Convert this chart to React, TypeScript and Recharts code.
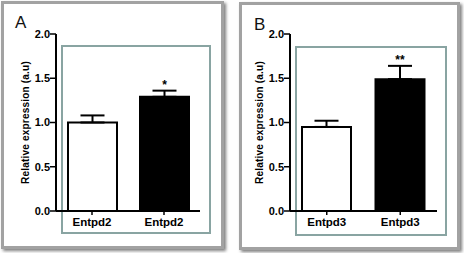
import { BarChart, Bar, XAxis, YAxis, Cell, ErrorBar, LabelList, Label } from 'recharts';

const categoriesA = ['Entpd2', 'Entpd2'];
const valuesA = [1.0, 1.29];
const errorsA = [0.08, 0.07];
const sigA = ['', '*'];

const categoriesB = ['Entpd3', 'Entpd3'];
const valuesB = [0.95, 1.49];
const errorsB = [0.07, 0.15];
const sigB = ['', '**'];

const yTicks = [0, 0.5, 1, 1.5, 2];
const barFills = ['#ffffff', '#000000'];

const FONT = '"Liberation Sans", Arial, sans-serif';

type Row = { name: string; value: number; err: number[]; e: number; sig: string };

const build = (cats: string[], vals: number[], errs: number[], sigs: string[]): Row[] =>
  cats.map((name, i) => ({ name, value: vals[i], err: [0, errs[i]], e: errs[i], sig: sigs[i] }));

const dataA = build(categoriesA, valuesA, errorsA, sigA);
const dataB = build(categoriesB, valuesB, errorsB, sigB);

// star above the error bar, placed using the bar's own pixel scale
const sigLabel = (rows: Row[]) => (props: any) => {
  const { x, y, width, height, index } = props;
  const row = rows[index];
  if (!row || !row.sig) return null;
  const top = y - (row.e * height) / row.value;
  return (
    <text x={x + width / 2} y={top - 2} textAnchor="middle" fontSize={12} fontWeight="bold" fontFamily={FONT} fill="#000">
      {row.sig}
    </text>
  );
};

const yLabel = (props: any) => {
  const vb = props.viewBox || {};
  const cx = vb.x + vb.width - 31;
  const cy = vb.y + vb.height / 2;
  return (
    <text x={cx} y={cy} transform={`rotate(-90 ${cx} ${cy})`} textAnchor="middle" dominantBaseline="central"
      fontSize={10} fontWeight="bold" fontFamily={FONT} fill="#000" letterSpacing={0.2}>
      Relative expression (a.u)
    </text>
  );
};

function Panel({ rows, letter, left, marginRight, frame, box, letterPos }: {
  rows: Row[]; letter: string; left: number; marginRight: number;
  frame: { l: number; t: number; w: number; h: number };
  box: { l: number; t: number; w: number; h: number };
  letterPos: { l: number; t: number };
}) {
  return (
    <>
      <div style={{
        position: 'absolute', left: frame.l, top: frame.t, width: frame.w, height: frame.h,
        boxSizing: 'border-box', border: '3px solid #a2a2a2', background: '#fff',
        boxShadow: '2px 2px 3px rgba(0,0,0,0.5)',
      }} />
      <div style={{
        position: 'absolute', left: box.l, top: box.t, width: box.w, height: box.h,
        boxSizing: 'border-box', border: '2px solid #89a4a2',
      }} />
      <div style={{ position: 'absolute', left: letterPos.l, top: letterPos.t, fontFamily: FONT, fontSize: 17, lineHeight: '17px', color: '#111' }}>
        {letter}
      </div>
      <div style={{ position: 'absolute', left, top: 0 }}>
        <BarChart width={230} height={253} data={rows} barSize={49}
          margin={{ top: 34, right: marginRight, left: 8, bottom: 11 }}>
          <XAxis dataKey="name" axisLine={{ stroke: '#000', strokeWidth: 2 }} tickLine={{ stroke: '#000', strokeWidth: 1.5 }}
            tickSize={4} tickMargin={3} height={31}
            tick={{ fontSize: 11.5, fontWeight: 'bold', fontFamily: FONT, fill: '#000' }} />
          <YAxis domain={[0, 2]} ticks={yTicks} width={48} interval={0}
            axisLine={{ stroke: '#000', strokeWidth: 2 }} tickLine={{ stroke: '#000', strokeWidth: 1.5 }}
            tickSize={6} tickMargin={0} tickFormatter={(v: number) => v.toFixed(1)}
            tick={{ fontSize: 11, fontWeight: 'bold', fontFamily: FONT, fill: '#000' }}>
            <Label content={yLabel} />
          </YAxis>
          <Bar dataKey="value" stroke="#000" strokeWidth={2} isAnimationActive={false}>
            {rows.map((_, i) => (
              <Cell key={i} fill={barFills[i % barFills.length]} />
            ))}
            <ErrorBar dataKey="err" width={12} stroke="#000" strokeWidth={2} direction="y" />
            <LabelList dataKey="sig" content={sigLabel(rows)} />
          </Bar>
        </BarChart>
      </div>
    </>
  );
}

export default function App() {
  return (
    <div style={{ position: 'absolute', left: 0, top: 0, width: 464, height: 253, background: '#fff', overflow: 'hidden' }}>
      <Panel rows={dataA} letter="A" left={0} marginRight={30}
        frame={{ l: 1, t: 1, w: 223, h: 248 }}
        box={{ l: 61, t: 45, w: 150, h: 189 }}
        letterPos={{ l: 15, t: 14 }} />
      <Panel rows={dataB} letter="B" left={234} marginRight={27}
        frame={{ l: 239, t: 2, w: 221, h: 248 }}
        box={{ l: 295, t: 46, w: 152, h: 190 }}
        letterPos={{ l: 254, t: 16 }} />
    </div>
  );
}
